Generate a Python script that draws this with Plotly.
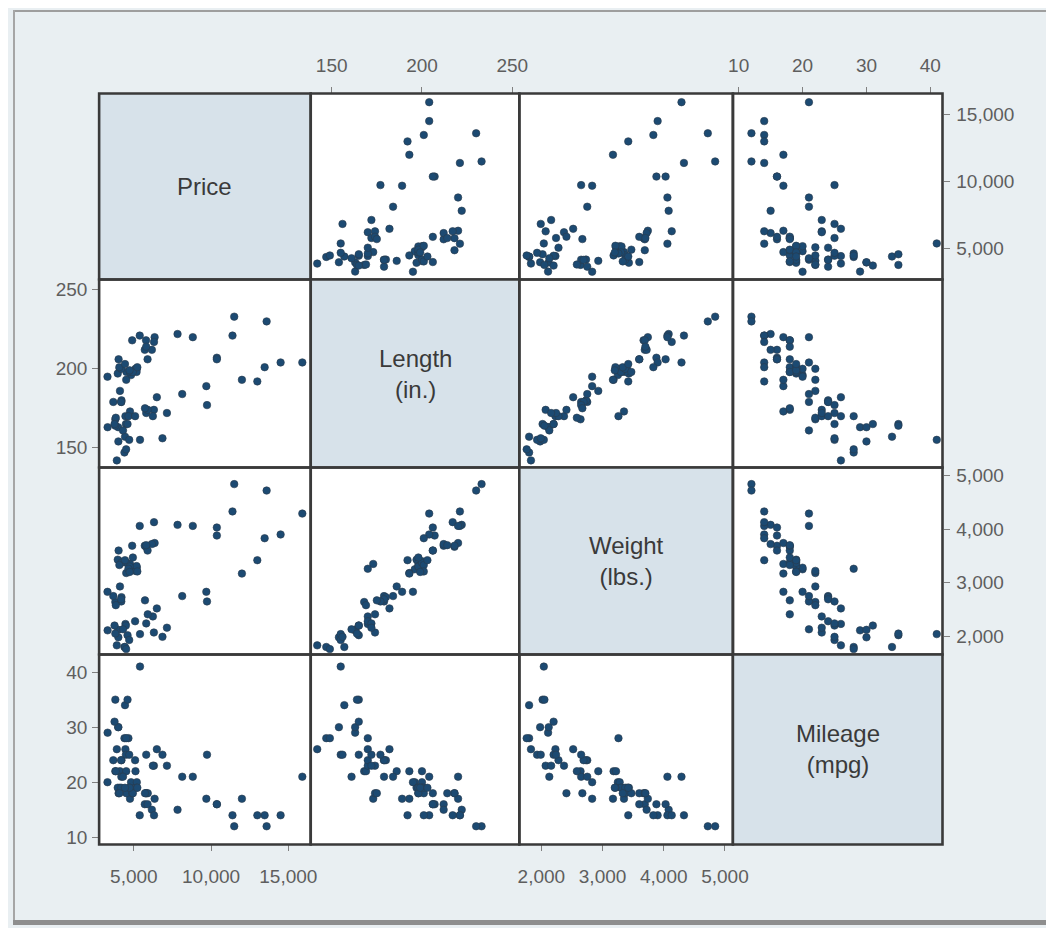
import plotly.graph_objects as go

# ---- data (1978 automobile data, 74 cars) ----
price = [4099, 4749, 3799, 4816, 7827, 5788, 4453, 5189, 10372, 4082,
         11385, 14500, 15906, 3299, 5705, 4504, 5104, 3667, 3955, 3984,
         4010, 5886, 6342, 4389, 4187, 11497, 13594, 13466, 3829, 5379,
         6165, 4516, 6303, 3291, 8814, 5172, 4733, 4890, 4181, 4195,
         10371, 4647, 4425, 4482, 6486, 4060, 5798, 4934, 5222, 4723,
         4424, 4172, 9690, 6295, 9735, 6229, 4589, 5079, 8129, 4296,
         5799, 4499, 3995, 12990, 3895, 3798, 5899, 3748, 5719, 7140,
         5397, 4697, 6850, 11995]
mpg = [22, 17, 22, 20, 15, 18, 26, 20, 16, 19,
       14, 14, 21, 29, 16, 22, 22, 24, 19, 30,
       18, 16, 17, 28, 21, 12, 12, 14, 22, 14,
       15, 18, 14, 20, 21, 19, 19, 18, 19, 24,
       16, 28, 34, 25, 26, 18, 18, 18, 19, 19,
       19, 24, 17, 23, 25, 23, 35, 24, 21, 21,
       25, 28, 30, 14, 26, 35, 18, 31, 18, 23,
       41, 25, 25, 17]
weight = [2930, 3350, 2640, 3250, 4080, 3670, 2230, 3280, 3880, 3400,
          4330, 3900, 4290, 2110, 3690, 3180, 3220, 2750, 3430, 2120,
          3600, 3600, 3740, 1800, 2650, 4840, 4720, 3830, 2580, 4060,
          3720, 3370, 4130, 2830, 4060, 3310, 3300, 3690, 3370, 2730,
          4030, 3260, 1800, 2200, 2520, 3330, 3700, 3470, 3210, 3200,
          3420, 2690, 2830, 2070, 2650, 2370, 2020, 2280, 2750, 2130,
          2240, 1760, 1980, 3420, 1830, 2050, 2410, 2200, 2670, 2160,
          2040, 1930, 1990, 3170]
length = [186, 173, 168, 196, 222, 218, 170, 200, 207, 200,
          221, 204, 204, 163, 212, 193, 200, 179, 197, 163,
          206, 206, 220, 147, 179, 233, 230, 201, 169, 221,
          212, 198, 217, 195, 220, 198, 198, 218, 200, 180,
          206, 170, 157, 165, 182, 201, 214, 198, 201, 199,
          203, 179, 189, 174, 177, 170, 165, 170, 184, 161,
          172, 149, 154, 192, 142, 164, 174, 165, 175, 172,
          155, 155, 156, 193]

var_labels = ["Price", "Length<br>(in.)", "Weight<br>(lbs.)", "Mileage<br>(mpg)"]
series = [price, length, weight, mpg]

price_ticks = [5000, 10000, 15000]
price_ticktext = ["5,000", "10,000", "15,000"]
length_ticks = [150, 200, 250]
length_ticktext = ["150", "200", "250"]
weight_ticks = [2000, 3000, 4000, 5000]
weight_ticktext = ["2,000", "3,000", "4,000", "5,000"]
mpg_ticks = [10, 20, 30, 40]
mpg_ticktext = ["10", "20", "30", "40"]
tickvals = [price_ticks, length_ticks, weight_ticks, mpg_ticks]
ticktexts = [price_ticktext, length_ticktext, weight_ticktext, mpg_ticktext]

# ---- layout geometry (maps reference pixel positions to paper fractions) ----
W, H = 1054, 920
X0, XSPAN = 11.7, 1035.0
Y0 = 8


def fx(px):
    return (px - X0) / XSPAN


def fy(py):
    return 1 - (py - Y0) / H


col_edges = [98, 310, 519, 733, 943]
row_edges = [92, 279, 468, 656, 847]
x_ranges = [[2750, 16450], [138.4, 253.9], [1640, 5130], [9.1, 41.9]]
y_ranges = [[2710, 16550], [137.5, 256.5], [1660, 5150], [8.7, 43.2]]

NAVY = "#1c4a72"
BORDER = "#3a3a3a"
DIAG_FILL = "#d7e2ea"
BG = "#e9eff2"
TICKFONT = dict(family="Liberation Sans, Arial, sans-serif", size=19, color="#5e5e5e")

xtick_cell = {0: (3, "bottom"), 1: (0, "top"), 2: (3, "bottom"), 3: (0, "top")}
ytick_cell = {0: (3, "right"), 1: (0, "left"), 2: (3, "right"), 3: (0, "left")}

fig = go.Figure()
layout = {}
k = 0
for i in range(4):
    for j in range(4):
        if i == j:
            continue
        k += 1
        xa = "xaxis" if k == 1 else f"xaxis{k}"
        ya = "yaxis" if k == 1 else f"yaxis{k}"
        xr = "x" if k == 1 else f"x{k}"
        yr = "y" if k == 1 else f"y{k}"
        fig.add_trace(go.Scatter(
            x=series[j], y=series[i], mode="markers", xaxis=xr, yaxis=yr,
            marker=dict(color=NAVY, size=7.5, line=dict(color="#2a3a4c", width=0.6)),
            showlegend=False, hoverinfo="skip"))
        show_x = xtick_cell[j][0] == i
        show_y = ytick_cell[i][0] == j
        xdict = dict(
            domain=[fx(col_edges[j]), fx(col_edges[j + 1])],
            range=x_ranges[j], anchor=yr, showgrid=False, zeroline=False,
            showline=False, fixedrange=True,
            tickvals=tickvals[j], ticktext=ticktexts[j],
            showticklabels=show_x, ticks="outside" if show_x else "",
            ticklen=6, tickwidth=1, tickcolor="#808080", tickfont=TICKFONT,
            ticklabelstandoff=7 if xtick_cell[j][1] == "top" else 9,
            side=xtick_cell[j][1] if show_x else "bottom",
        )
        ydict = dict(
            domain=[fy(row_edges[i + 1]), fy(row_edges[i])],
            range=y_ranges[i], anchor=xr, showgrid=False, zeroline=False,
            showline=False, fixedrange=True,
            tickvals=tickvals[i], ticktext=ticktexts[i],
            showticklabels=show_y, ticks="outside" if show_y else "",
            ticklen=6, tickwidth=1, tickcolor="#808080", tickfont=TICKFONT,
            ticklabelstandoff=3 if ytick_cell[i][1] == "right" else 1,
            side=ytick_cell[i][1] if show_y else "left",
        )
        layout[xa] = xdict
        layout[ya] = ydict

shapes = []
# outer photo frame
shapes.append(dict(type="rect", xref="paper", yref="paper", x0=0, x1=1, y0=fy(10), y1=1,
                   fillcolor="#9e9e9e", line=dict(width=0), layer="above"))
shapes.append(dict(type="rect", xref="paper", yref="paper", x0=0, x1=2 / XSPAN, y0=0, y1=1,
                   fillcolor="#a6a6a6", line=dict(width=0), layer="above"))
shapes.append(dict(type="rect", xref="paper", yref="paper", x0=0, x1=1,
                   y0=0, y1=fy(923), fillcolor="#8e8e8e", line=dict(width=0), layer="above"))

# cells
for i in range(4):
    for j in range(4):
        shapes.append(dict(type="rect", xref="paper", yref="paper",
                           x0=fx(col_edges[j]), x1=fx(col_edges[j + 1]),
                           y0=fy(row_edges[i + 1]), y1=fy(row_edges[i]),
                           fillcolor=DIAG_FILL if i == j else "rgba(0,0,0,0)",
                           line=dict(color=BORDER, width=2.6), layer="above"))

annotations = []
for i in range(4):
    cx = fx((col_edges[i] + col_edges[i + 1]) / 2)
    cy = fy((row_edges[i] + row_edges[i + 1]) / 2)
    annotations.append(dict(xref="paper", yref="paper", x=cx, y=cy, text=var_labels[i],
                            showarrow=False, xanchor="center", yanchor="middle",
                            font=dict(family="Liberation Sans, Arial, sans-serif", size=24, color="#3a3a3a")))

fig.update_layout(
    width=W, height=H, margin=dict(l=0, r=0, t=0, b=0),
    paper_bgcolor=BG, plot_bgcolor="white",
    shapes=shapes, annotations=annotations, showlegend=False,
    **layout)

fig.write_html("out.html")
